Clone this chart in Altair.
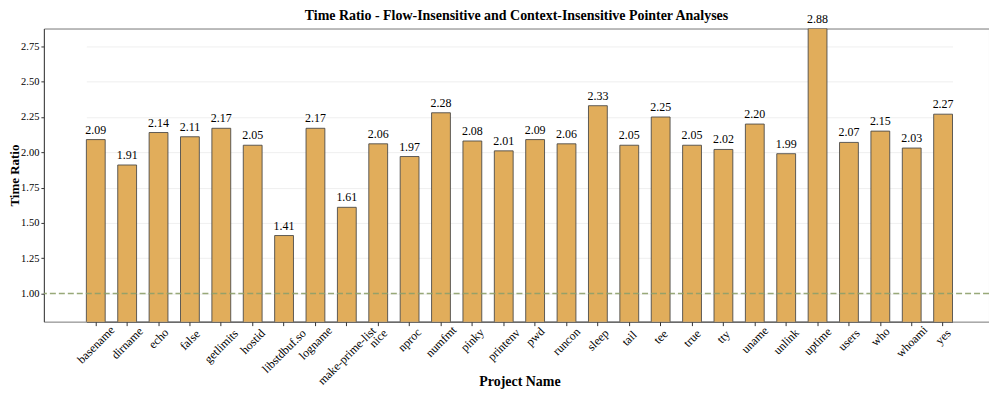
import altair as alt
import pandas as pd

projects = ["basename", "dirname", "echo", "false", "getlimits", "hostid", "libstdbuf.so",
            "logname", "make-prime-list", "nice", "nproc", "numfmt", "pinky", "printenv",
            "pwd", "runcon", "sleep", "tail", "tee", "true", "tty", "uname", "unlink",
            "uptime", "users", "who", "whoami", "yes"]
ratios = [2.09, 1.91, 2.14, 2.11, 2.17, 2.05, 1.41,
          2.17, 1.61, 2.06, 1.97, 2.28, 2.08, 2.01,
          2.09, 2.06, 2.33, 2.05, 2.25, 2.05, 2.02, 2.20, 1.99,
          2.877, 2.07, 2.15, 2.03, 2.27]
y_ticks = [1.0, 1.25, 1.5, 1.75, 2.0, 2.25, 2.5, 2.75]
baseline_value = [1.0]

df = pd.DataFrame({"project": projects, "ratio": ratios})
FONT = "Liberation Serif"

xscale = alt.Scale(paddingInner=0.4, paddingOuter=0, range=[42.6, 911.4])
yscale = alt.Scale(domain=[0.8, 2.877], nice=False, zero=False)

x_enc = alt.X("project:N", sort=projects, scale=xscale,
              axis=alt.Axis(title="Project Name", labelAngle=-45, labelAlign="center",
                            labelBaseline="middle", labelFont=FONT, labelFontSize=12,
                            labelColor="#000", labelOverlap=False, labelBound=False,
                            labelPadding=alt.ExprRef("2 + 0.3536*(4.5*length(datum.label) + 11)"),
                            titleFont=FONT, titleFontSize=14,
                            titleFontWeight="bold", titleColor="#000", tickSize=4,
                            tickColor="#333", domainColor="#444", grid=False,
                            titleBaseline="alphabetic", titleY=64))
y_enc = alt.Y("ratio:Q", scale=yscale,
              axis=alt.Axis(title="Time Ratio", values=y_ticks, format=".2f",
                            labelFont=FONT, labelFontSize=10.5, labelColor="#000",
                            titleFont=FONT, titleFontSize=13, titleFontWeight="bold",
                            titleColor="#000", tickSize=3, tickColor="#333",
                            domainColor="#444", grid=True, gridColor="#ebebeb",
                            gridWidth=0.8, labelPadding=2,
                            titleX=-25.5, titleBaseline="alphabetic"))

base = alt.Chart(df)
bars = base.mark_bar(clip=True, color="#E1AD5B", stroke="#444", strokeWidth=1,
                     strokeOpacity=0.85).encode(x=x_enc, y=y_enc, y2=alt.datum(0.0))
labels = base.mark_text(baseline="bottom", dy=-3, font=FONT, fontSize=12,
                        color="#000").encode(
    x=alt.X("project:N", sort=projects),
    y=alt.Y("ratio:Q"),
    text=alt.Text("ratio:Q", format=".2f"))
rule = alt.Chart(pd.DataFrame({"y": baseline_value})).mark_rule(
    strokeDash=[6, 3], color="#8DA06A", strokeWidth=1.5, opacity=0.9).encode(y="y:Q")

chart = alt.layer(bars, rule, labels).properties(
    width=948, height=294,
    title=alt.TitleParams("Time Ratio - Flow-Insensitive and Context-Insensitive Pointer Analyses",
                          font=FONT, fontSize=14, fontWeight="bold", color="#000",
                          anchor="middle", offset=0, dy=10),
    autosize=alt.AutoSizeParams(type="none"),
    padding={"left": 36, "top": 20, "right": 0, "bottom": 70},
).configure_view(stroke="#777", strokeWidth=1)

chart.save("out.html", embed_options={"renderer": "svg", "actions": False})
